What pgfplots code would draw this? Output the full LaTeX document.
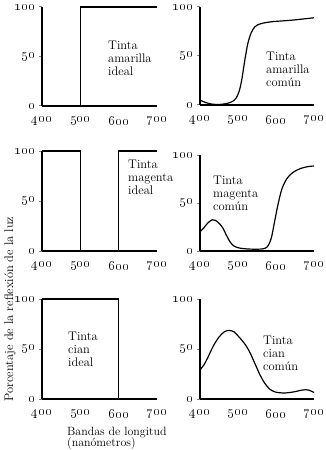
\documentclass[border=0pt]{standalone}
\usepackage{pgfplots}
\pgfplotsset{compat=1.18}
\newcommand{\os}[1]{\oldstylenums{#1}}
\pgfplotsset{panel/.style={scale only axis, width=115bp, height=100bp,
  xmin=400, xmax=700, ymin=0, ymax=100,
  axis lines*=left, axis line style={line width=1.2bp},
  xtick={400,500,600,700}, xticklabels={\os{400},\os{500},\os{600},\os{700}},
  ytick={0,50,100}, yticklabels={\os{0},\os{50},\os{100}},
  tick align=outside, major tick length=3bp,
  xtick style={draw=none}, ytick style={line width=1bp},
  tick label style={font=\fontsize{14.5}{14.5}\selectfont, inner sep=1bp},
  xticklabel style={yshift=-6bp},
  yticklabel style={xshift=-2.5bp},
  clip=false, anchor=south west},
  curve/.style={black, line width=1.2bp, no markers}}
\begin{document}
\begin{tikzpicture}[x=1bp,y=1bp]
\path[use as bounding box] (0,0) rectangle (325,-450);
\tikzset{lab/.style={anchor=north west, align=left, inner sep=0pt, font=\fontsize{12.5}{13}\selectfont}}
% top left
\begin{axis}[panel, height=99bp, at={(42bp,-106bp)}]
\addplot[curve] coordinates {(400,0) (500,0) (500,100) (700,100)};
\end{axis}
% top right
\begin{axis}[panel, width=114bp, height=98bp, at={(200bp,-105bp)}]
\addplot[curve, smooth, tension=0.5] coordinates {(400,5) (415,2.5) (430,1) (450,0.5) (470,1.5) (485,3.5) (495,7) (503,14) (510,26) (518,46) (526,63) (535,74) (545,80) (560,83) (590,85) (640,86.5) (700,89)};
\end{axis}
% middle left
\begin{axis}[panel, at={(42bp,-251bp)}]
\addplot[curve] coordinates {(400,100) (500,100) (500,0) (600,0) (600,100) (700,100)};
\end{axis}
% middle right
\begin{axis}[panel, width=114bp, height=96bp, at={(200bp,-251bp)}]
\addplot[curve, smooth, tension=0.5] coordinates {(400,20) (410,24) (420,29) (432,32.5) (440,32) (450,29) (460,24) (470,16) (480,9) (490,5) (505,3) (530,2) (560,2) (572,3) (580,6) (588,14) (596,30) (605,48) (615,64) (628,75) (645,82) (665,86) (685,88) (700,88.5)};
\end{axis}
% bottom left
\begin{axis}[panel, at={(42bp,-399bp)}]
\addplot[curve] coordinates {(400,100) (600,100) (600,0) (700,0)};
\end{axis}
% bottom right
\begin{axis}[panel, width=114bp, at={(200bp,-399bp)}]
\addplot[curve, smooth, tension=0.5] coordinates {(400,29) (410,34) (420,41) (435,53) (450,62) (465,67.5) (478,68.5) (490,67) (505,61) (520,54) (532,46) (545,35) (558,24) (570,16) (583,10) (598,7) (620,6) (645,7) (670,9) (685,9) (700,6.5)};
\end{axis}
% labels
\node[lab] at (108,-41) {Tinta\\amarilla\\ideal};
\node[lab] at (266,-52) {Tinta\\amarilla\\común};
\node[lab] at (128,-160) {Tinta\\magenta\\ideal};
\node[lab] at (213,-176) {Tinta\\magenta\\común};
\node[lab] at (68,-332) {Tinta\\cian\\ideal};
\node[lab] at (263,-336) {Tinta\\cian\\común};
\node[rotate=90, font=\fontsize{12.5}{12.5}\selectfont] at (10,-309) {Porcentaje de la reflexión de la luz};
\node[anchor=north west, align=left, inner sep=0pt, font=\fontsize{12}{11.5}\selectfont] at (67,-427) {Bandas de longitud\\(nanómetros)};
\end{tikzpicture}
\end{document}
